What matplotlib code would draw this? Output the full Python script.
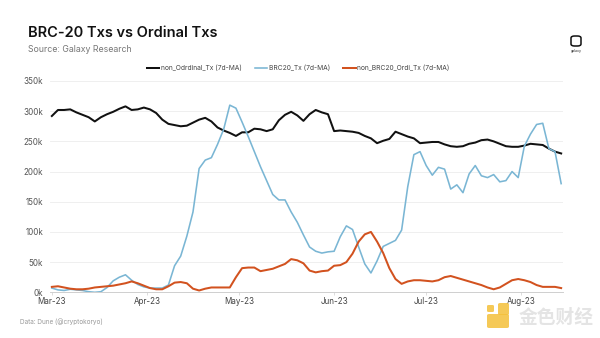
import numpy as np
import matplotlib
matplotlib.use("Agg")
import matplotlib.pyplot as plt
import matplotlib.dates as mdates
from matplotlib.patches import FancyBboxPatch

plt.rcParams['font.family'] = ['Inter', 'DejaVu Sans']

# 7-day moving averages, sampled every 2 days from 2023-03-01 (values in thousands)
start = np.datetime64('2023-03-01')
step_days = 2

non_ordinal_tx = [
    292, 302, 302, 303, 298, 294, 290, 283, 290, 295,
    299, 304, 308, 302, 303, 306, 303, 297, 286, 279,
    277, 275, 276, 281, 286, 289, 283, 273, 268, 264,
    259, 265, 265, 271, 270, 267, 270, 285, 294, 299,
    293, 284, 295, 302, 298, 295, 267, 268, 267, 266,
    264, 259, 255, 247, 251, 254, 266, 262, 258, 255,
    247, 248, 249, 249, 245, 242, 241, 242, 246, 248,
    252, 253, 250, 246, 242, 241, 241, 243, 246, 245,
    244, 238, 233, 230,
]

brc20_tx = [
    7, 4, 3, 5, 4, 3, 1, 0, 1, 8,
    19, 25, 29, 20, 13, 9, 7, 7, 7, 12,
    44, 60, 93, 133, 205, 219, 223, 245, 270, 310,
    305, 282, 258, 233, 208, 185, 162, 153, 153, 133,
    116, 95, 75, 68, 65, 67, 68, 92, 110, 104,
    75, 47, 32, 52, 76, 81, 86, 103, 175, 228,
    233, 210, 194, 207, 204, 171, 178, 165, 196, 210,
    193, 190, 195, 183, 185, 200, 190, 242, 262, 278,
    280, 238, 233, 180,
]

non_brc20_ordi_tx = [
    9, 10, 8, 6, 5, 5, 6, 8, 9, 10,
    11, 13, 15, 18, 15, 11, 7, 5, 5, 10,
    16, 17, 15, 6, 3, 6, 8, 8, 8, 8,
    25, 40, 41, 41, 35, 37, 39, 43, 47, 55,
    53, 48, 36, 33, 35, 36, 44, 45, 50, 64,
    84, 96, 100, 84, 65, 40, 22, 14, 18, 20,
    20, 19, 18, 20, 25, 27, 24, 21, 18, 15,
    12, 8, 5, 8, 14, 20, 22, 20, 17, 12,
    9, 9, 9, 7,
]

series_labels = [
    "non_Odrdinal_Tx (7d-MA)",
    "BRC20_Tx (7d-MA)",
    "non_BRC20_Ordi_Tx (7d-MA)",
]
series_colors = ["#111111", "#7ab6d4", "#d2521f"]
y_ticks = [0, 50, 100, 150, 200, 250, 300, 350]

n = len(non_ordinal_tx)
dates = start + np.arange(n) * np.timedelta64(step_days, 'D')
dates = dates.astype('datetime64[D]').astype(object)

W, H = 600, 338
fig = plt.figure(figsize=(W / 100, H / 100), dpi=100)
fig.patch.set_facecolor("white")

left, right = 50 / W, 563 / W
bottom, top = 1 - 292.3 / H, 1 - 81 / H
ax = fig.add_axes([left, bottom, right - left, top - bottom])

series = [non_ordinal_tx, brc20_tx, non_brc20_ordi_tx]
widths = [1.45, 1.15, 1.45]
handles = []
for vals, lab, col, lw in zip(series, series_labels, series_colors, widths):
    (ln,) = ax.plot(dates, np.array(vals) * 1000, color=col, lw=lw,
                    label=lab, solid_joinstyle='round', zorder=3)
    handles.append(ln)

ax.set_ylim(0, 350000)
ax.set_xlim(mdates.date2num(dates[0]) - 0.6, mdates.date2num(dates[-1]) + 0.6)
ax.set_yticks([v * 1000 for v in y_ticks])
ax.set_yticklabels([f"{v}k" for v in y_ticks])
ax.xaxis.set_major_locator(mdates.MonthLocator())
ax.xaxis.set_major_formatter(mdates.DateFormatter('%b-%y'))

ax.grid(axis='y', color='#ececec', lw=0.6, zorder=0)
ax.grid(axis='x', visible=False)
for s in ['top', 'right', 'left']:
    ax.spines[s].set_visible(False)
ax.spines['bottom'].set_color('#cfcfcf')
ax.spines['bottom'].set_linewidth(0.7)
ax.tick_params(axis='y', length=0, pad=5, labelsize=5.8, labelcolor='#555555')
ax.tick_params(axis='x', length=2, width=0.5, color='#cfcfcf', pad=1.5,
               labelsize=5.8, labelcolor='#444444')
ax.set_facecolor('none')

# header
fig.text(28 / W, 1 - 37 / H, "BRC-20 Txs vs Ordinal Txs", fontsize=10.5,
         fontweight='semibold', color='#111111', va='baseline', ha='left')
fig.text(28 / W, 1 - 52 / H, "Source: Galaxy Research", fontsize=6.3,
         color='#777777', va='baseline', ha='left')

fig.legend(handles, series_labels, ncol=3, loc='center',
           bbox_to_anchor=(298 / W, 1 - 68 / H), frameon=False,
           fontsize=4.8, handlelength=1.9, handletextpad=0.2,
           columnspacing=2.0, labelcolor='#444444')

# galaxy mark
logo = FancyBboxPatch((571 / W, 1 - 46 / H), 10 / W, 10 / H,
                      boxstyle="round,pad=0,rounding_size=0.006",
                      transform=fig.transFigure, fill=False,
                      ec='#111111', lw=1.1)
fig.add_artist(logo)
fig.text(576 / W, 1 - 51 / H, "galaxy", fontsize=2.6, color='#333333',
         ha='center', va='center')

# footer
fig.text(20 / W, 1 - 322 / H, "Data: Dune (@cryptokoryo)", fontsize=4.6,
         color='#999999', ha='left', va='center')

# 金色财经 mark
yel = '#f4c03a'
fig.add_artist(FancyBboxPatch((487 / W, 1 - 328 / H), 22 / W, 14 / H,
                              boxstyle="round,pad=0,rounding_size=0.004",
                              transform=fig.transFigure, fc=yel, ec='none',
                              alpha=0.85))
fig.add_artist(FancyBboxPatch((498 / W, 1 - 315 / H), 11 / W, 12 / H,
                              boxstyle="round,pad=0,rounding_size=0.004",
                              transform=fig.transFigure, fc=yel, ec='none',
                              alpha=0.85))
fig.add_artist(FancyBboxPatch((487 / W, 1 - 312 / H), 7 / W, 7 / H,
                              boxstyle="round,pad=0,rounding_size=0.003",
                              transform=fig.transFigure, fc=yel, ec='none',
                              alpha=0.85))
fig.text(556 / W, 1 - 317 / H, "金色财经", fontsize=13.5,
         family=['Noto Sans CJK SC', 'DejaVu Sans'], color='#e4e4e4',
         ha='center', va='center', fontweight='bold')

fig.savefig("out.png", dpi=100, facecolor='white')
